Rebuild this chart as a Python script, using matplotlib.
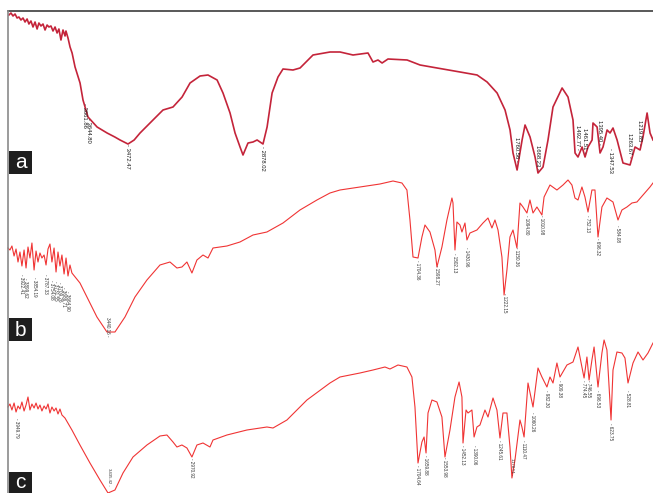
import numpy as np
import matplotlib.pyplot as plt
from matplotlib.lines import Line2D
from matplotlib.patches import Rectangle

plt.rcParams['font.family'] = ['Liberation Sans', 'DejaVu Sans']

# FTIR spectra: (wavenumber cm-1, transmittance %)
spec_a = [(3996, 97.5), (3987, 98.5), (3978, 97), (3969, 98), (3960, 96), (3952, 96.5), (3943, 95), (3934, 96),
          (3925, 94), (3916, 95.5), (3908, 93), (3899, 94.5), (3890, 91.5), (3881, 94), (3872, 90.5), (3864, 93.5),
          (3855, 92), (3846, 93), (3837, 90), (3828, 92.5), (3820, 91.5), (3811, 92), (3802, 89.5), (3793, 91.5),
          (3784, 88.5), (3776, 90.5), (3767, 85), (3758, 90), (3749, 87), (3745, 89.5), (3736, 86), (3727, 81.5),
          (3718, 78.5), (3705, 71.5), (3683, 63.5), (3670, 55), (3648, 46.5), (3608, 41.5), (3564, 38.5),
          (3530, 36.5), (3507, 35), (3472, 33), (3445, 35), (3419, 38.5), (3362, 45), (3318, 50), (3274, 51.5),
          (3234, 56.5), (3199, 63.5), (3155, 67), (3120, 67.5), (3080, 65), (3054, 58.5), (3023, 48.5),
          (3001, 38.5), (2979, 31.5), (2966, 27.5), (2944, 33.5), (2922, 34), (2904, 35), (2891, 34), (2878, 33),
          (2860, 41.5), (2838, 58.5), (2812, 66.5), (2790, 70.5), (2746, 70), (2715, 71), (2658, 77.5),
          (2583, 79), (2539, 79), (2482, 77.5), (2416, 78.5), (2394, 74), (2372, 75), (2354, 73.5), (2328, 75.5),
          (2244, 75), (2187, 72.5), (2112, 71), (2011, 69), (1936, 67.5), (1892, 64), (1848, 58.5), (1813, 50),
          (1791, 40), (1778, 28.5), (1760, 20), (1738, 35), (1725, 42.5), (1703, 36.5), (1681, 26.5),
          (1668, 18.5), (1646, 21.5), (1624, 35), (1602, 51.5), (1562, 61), (1536, 56.5), (1514, 45),
          (1505, 28.5), (1492, 26.5), (1474, 31.5), (1461, 26.5), (1448, 31.5), (1430, 35), (1426, 43.5),
          (1408, 41.5), (1395, 28.5), (1382, 31.5), (1364, 40), (1351, 38.5), (1338, 41), (1320, 35),
          (1294, 23.5), (1263, 22.5), (1241, 31.5), (1219, 30), (1206, 36.5), (1188, 48.5), (1175, 38.5),
          (1162, 35)]

spec_b = [(4000, 66), (3989, 65), (3978, 67), (3966, 62), (3955, 65.5), (3944, 59), (3933, 64), (3922, 57),
          (3910, 65), (3899, 56), (3888, 66.5), (3877, 61), (3866, 68.5), (3854, 55), (3843, 64.5), (3832, 59),
          (3821, 63.5), (3810, 61), (3798, 62.5), (3787, 57.5), (3776, 65.5), (3765, 68), (3754, 59), (3742, 66),
          (3731, 54), (3720, 64), (3709, 57), (3698, 62.5), (3686, 53), (3675, 61), (3664, 52), (3653, 57.5),
          (3642, 53.5), (3597, 48.5), (3558, 41.5), (3502, 31.5), (3446, 24), (3401, 24), (3345, 31.5),
          (3289, 41.5), (3222, 50), (3149, 57.5), (3093, 59), (3054, 56), (3026, 56.5), (2998, 59), (2970, 53.5),
          (2942, 60), (2908, 62.5), (2880, 61), (2852, 66), (2774, 67), (2701, 69), (2628, 72.5), (2550, 74),
          (2460, 78.5), (2365, 85), (2270, 90), (2197, 93.5), (2141, 95), (2029, 96.5), (1917, 98), (1844, 99.5),
          (1794, 98.5), (1766, 95), (1749, 80), (1732, 61.5), (1704, 61), (1682, 71.5), (1665, 77.5), (1637, 74),
          (1609, 65), (1598, 56.5), (1570, 66.5), (1542, 80), (1514, 91), (1508, 88.5), (1497, 65), (1486, 79),
          (1469, 77.5), (1458, 74), (1441, 78.5), (1430, 70), (1413, 73.5), (1374, 75), (1340, 78.5), (1312, 81),
          (1290, 76), (1273, 80), (1256, 75), (1234, 61.5), (1222, 42.5), (1206, 55), (1189, 71.5), (1172, 75),
          (1150, 66), (1133, 88.5), (1116, 86.5), (1094, 83.5), (1077, 90), (1060, 83.5), (1038, 86.5),
          (1010, 82.5), (998, 91.5), (965, 97.5), (926, 95), (892, 97.5), (864, 100), (842, 97.5), (825, 91),
          (808, 90), (786, 96.5), (769, 91.5), (752, 84), (730, 95), (713, 95), (696, 71.5), (674, 86.5),
          (646, 91), (612, 89), (584, 80), (562, 85), (534, 86.5), (506, 88.5), (478, 89), (444, 92.5),
          (405, 96.5), (388, 98.5)]

spec_c = [(4000, 66.5), (3989, 68), (3978, 65), (3966, 68.5), (3955, 64), (3944, 67), (3933, 65.5), (3922, 69),
          (3910, 64.5), (3899, 67.5), (3888, 71.5), (3877, 65), (3866, 68), (3854, 66), (3843, 68.5),
          (3832, 65.5), (3821, 67.5), (3810, 64.5), (3798, 67), (3787, 65.5), (3776, 68), (3765, 63.5),
          (3754, 66.5), (3742, 64.5), (3731, 66), (3720, 63), (3709, 65.5), (3698, 62.5), (3681, 61),
          (3642, 55), (3597, 47.5), (3541, 38.5), (3485, 30), (3440, 23.5), (3401, 25), (3356, 33.5),
          (3300, 41.5), (3222, 47.5), (3149, 52), (3110, 52.5), (3076, 49), (3054, 46.5), (3026, 47.5),
          (2998, 46), (2970, 41.5), (2942, 47.5), (2908, 48.5), (2869, 46.5), (2852, 50), (2774, 52.5),
          (2662, 55), (2550, 56.5), (2516, 56), (2438, 60), (2326, 70), (2197, 78.5), (2141, 81.5),
          (2029, 83.5), (1956, 85), (1889, 86.5), (1861, 85.5), (1816, 87.5), (1766, 86.5), (1738, 81.5),
          (1721, 66.5), (1704, 38.5), (1682, 49), (1670, 51.5), (1659, 43.5), (1648, 63.5), (1626, 70),
          (1598, 69), (1570, 61.5), (1553, 41.5), (1525, 55), (1497, 71.5), (1474, 79), (1458, 71.5),
          (1452, 48.5), (1435, 65), (1424, 63.5), (1402, 65), (1390, 51.5), (1374, 56.5), (1357, 57.5),
          (1329, 65), (1312, 61.5), (1284, 71), (1262, 65), (1245, 51), (1228, 63.5), (1206, 63.5),
          (1189, 46.5), (1178, 31), (1161, 40), (1133, 60), (1122, 56.5), (1110, 51.5), (1088, 78.5),
          (1060, 66.5), (1032, 86), (1010, 81.5), (982, 76.5), (965, 81.5), (948, 78.5), (926, 88.5),
          (909, 81.5), (870, 87.5), (836, 89), (808, 96.5), (786, 86.5), (774, 81), (758, 91.5), (746, 80),
          (730, 90), (718, 96.5), (696, 76.5), (674, 93.5), (662, 100), (646, 95), (623, 60), (612, 85),
          (590, 94), (562, 93.5), (545, 91), (528, 78.5), (500, 88.5), (472, 94), (444, 90), (416, 93.5),
          (388, 98.5)]

# peak labels: tick above the number (below the band) or tick under it (label sits on the band)
peaks_a_low = [3661.86, 3644.80, 3472.47, 2878.02, 1347.53]
ytop_a_low = [53.5, 46, 33, 32, 31]
peaks_a_up = [1760.56, 1668.23, 1492.77, 1461.51, 1395.40, 1263.67, 1219.85]
ytop_a_up = [36.5, 32.5, 42.5, 41, 45, 38.5, 45]

peaks_b_low = [3922.41, 3899.62, 3854.19, 3787.33, 3754.08, 3731.55, 3709.26, 3686.71, 3664.90,
               1704.36, 1598.27, 1502.13, 1430.96, 1222.15, 1150.36, 1094.80, 1010.98, 752.13, 696.32, 584.08]
ytop_b_low = [53, 51, 51.5, 53, 50, 49.5, 49, 46.5, 44.5,
              60, 57.5, 63.5, 66.5, 43.5, 66.5, 82.5, 82.5, 82.5, 71, 77.5]
peaks_b_up = [3440.16]
ytop_b_up = [31.5]

peaks_c_low = [3949.79, 2970.92, 1704.64, 1659.88, 1553.98, 1452.13, 1390.06, 1245.61, 1110.47,
               1060.26, 982.30, 909.38, 774.45, 746.55, 696.53, 623.75, 528.81]
ytop_c_low = [61, 41, 37.5, 42.5, 41.5, 47.5, 47.5, 50, 50, 64, 75, 80, 80, 80, 75, 58.5, 75]
peaks_c_up = [3435.42, 1178.51]
ytop_c_up = [36, 41]

W, H = 653, 493
fig = plt.figure(figsize=(W / 100, H / 100), dpi=100)


def panel(top_px, xlim):
    # 100 %T sits at top_px, 0 %T 200 px lower
    ax = fig.add_axes([8 / W, (H - top_px - 200) / H, 645 / W, 200 / H])
    ax.set_xlim(*xlim)
    ax.set_ylim(0, 100)
    ax.axis('off')
    return ax


def draw(ax, spec, color, lw):
    x, y = np.array(spec).T
    ax.plot(x, y, color=color, lw=lw, clip_on=False)


def label(ax, peaks, ytop, size, color, up=False):
    for wn, yt in zip(peaks, ytop):
        s = f"{wn:.2f} -" if up else f"- {wn:.2f}"
        ax.text(wn, yt, s, rotation=270, ha='center', va='top', fontsize=size,
                color=color, clip_on=False)


ax_a = panel(10, (4000, 1162))
ax_b = panel(180, (4000, 388))
ax_c = panel(340, (4000, 388))

draw(ax_a, spec_a, '#c4243a', 1.2)
draw(ax_b, spec_b, '#f03434', 0.8)
draw(ax_c, spec_c, '#f03434', 0.8)

label(ax_a, peaks_a_low, ytop_a_low, 4.2, '#1a1a1a')
label(ax_a, peaks_a_up, ytop_a_up, 4.2, '#1a1a1a', up=True)
label(ax_b, peaks_b_low, ytop_b_low, 3.3, '#333333')
label(ax_b, peaks_b_up, ytop_b_up, 3.3, '#333333', up=True)
label(ax_c, peaks_c_low, ytop_c_low, 3.3, '#333333')
label(ax_c, peaks_c_up, ytop_c_up, 3.1, '#333333', up=True)

# outer frame (top and left edges only)
fig.add_artist(Line2D([8 / W, 1], [1 - 11 / H, 1 - 11 / H], color='#3c3c3c', lw=1.2))
fig.add_artist(Line2D([8 / W, 8 / W], [0, 1 - 11 / H], color='#8a8a8a', lw=1.2))

# panel tags
for tag, top, base in [('a', 151, 168), ('b', 318, 336.5), ('c', 472, 488)]:
    fig.add_artist(Rectangle((9 / W, (H - top - 23) / H), 23 / W, 23 / H,
                             transform=fig.transFigure, color='#1e1e1e', lw=0))
    fig.text(20.5 / W, (H - base) / H, tag, color='white', fontsize=15,
             ha='center', va='baseline')

fig.savefig('out.png', dpi=100)
